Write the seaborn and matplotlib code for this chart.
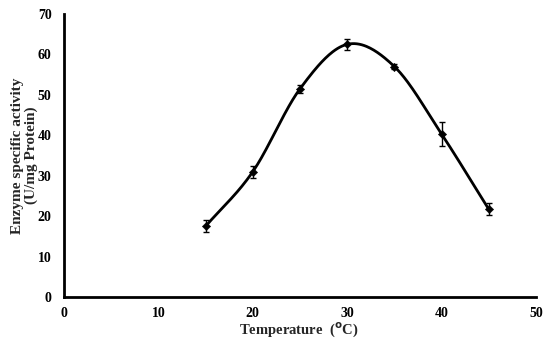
import numpy as np
import pandas as pd
import matplotlib
matplotlib.use("Agg")
import matplotlib.pyplot as plt
import seaborn as sns

temperature = [15, 20, 25, 30, 35, 40, 45]
activity = [17.5, 31.0, 51.5, 62.5, 57.0, 40.3, 21.7]
error = [1.5, 1.5, 1.0, 1.3, 0.6, 3.0, 1.5]
x_ticks = [0, 10, 20, 30, 40, 50]
y_ticks = [0, 10, 20, 30, 40, 50, 60, 70]

sns.set_theme(style="white")
plt.rcParams['font.family'] = ['Liberation Serif', 'DejaVu Serif']
plt.rcParams['font.weight'] = 'bold'


def smooth_curve(xs, ys, n=40):
    # Catmull-Rom style (Excel "smoothed line") through the data points
    xs = np.asarray(xs, float)
    ys = np.asarray(ys, float)
    px = np.concatenate([[2 * xs[0] - xs[1]], xs, [2 * xs[-1] - xs[-2]]])
    py = np.concatenate([[2 * ys[0] - ys[1]], ys, [2 * ys[-1] - ys[-2]]])
    outx, outy = [], []
    for i in range(1, len(px) - 2):
        t = np.linspace(0, 1, n)
        p0, p1, p2, p3 = (np.array([px[j], py[j]]) for j in range(i - 1, i + 3))
        c1 = p1 + (p2 - p0) / 6
        c2 = p2 - (p3 - p1) / 6
        b = ((1 - t) ** 3)[:, None] * p1 + (3 * (1 - t) ** 2 * t)[:, None] * c1 \
            + (3 * (1 - t) * t ** 2)[:, None] * c2 + (t ** 3)[:, None] * p2
        outx.extend(b[:, 0])
        outy.extend(b[:, 1])
    return np.array(outx), np.array(outy)


sx, sy = smooth_curve(temperature, activity)
curve = pd.DataFrame({"x": sx, "y": sy})
pts = pd.DataFrame({"Temperature": temperature, "Activity": activity, "err": error})

fig = plt.figure(figsize=(5.5, 3.46), dpi=100)
ax = fig.add_axes([0.1164, 0.1416, 0.8581, 0.8179])

sns.lineplot(data=curve, x="x", y="y", color="black", linewidth=2.0, sort=False,
             estimator=None, ax=ax)
ax.errorbar(pts["Temperature"], pts["Activity"], yerr=pts["err"], fmt="none",
            ecolor="black", elinewidth=1.0, capsize=2.5, capthick=1.0)
sns.scatterplot(data=pts, x="Temperature", y="Activity", marker="D", s=18,
                color="black", edgecolor="black", ax=ax, zorder=5)

ax.set_xlim(0, 50)
ax.set_ylim(0, 70)
ax.set_xticks(x_ticks)
ax.set_yticks(y_ticks)
ax.set_xticklabels([str(v) for v in x_ticks], fontsize=10, fontweight="bold")
ax.set_yticklabels([str(v) for v in y_ticks], fontsize=10, fontweight="bold")
ax.set_xlabel("Temperature  (${}^{\\mathbf{o}}$C)", fontsize=10.5, fontweight="bold")
ax.set_ylabel("Enzyme specific activity\n(U/mg Protein)", fontsize=11, fontweight="bold",
              linespacing=1.05)
ax.xaxis.set_label_coords(0.498, -0.082)
ax.yaxis.set_label_coords(-0.056, 0.5)

for side in ["top", "right"]:
    ax.spines[side].set_visible(False)
for side in ["left", "bottom"]:
    ax.spines[side].set_linewidth(2.0)
    ax.spines[side].set_color("black")
ax.tick_params(axis="y", direction="out", length=2, width=1.5, color="black", pad=7,
               labelcolor="black")
ax.tick_params(axis="x", direction="out", length=2, width=1.5, color="black", pad=5,
               labelcolor="black")
ax.grid(False)

fig.savefig("out.png", dpi=100)
